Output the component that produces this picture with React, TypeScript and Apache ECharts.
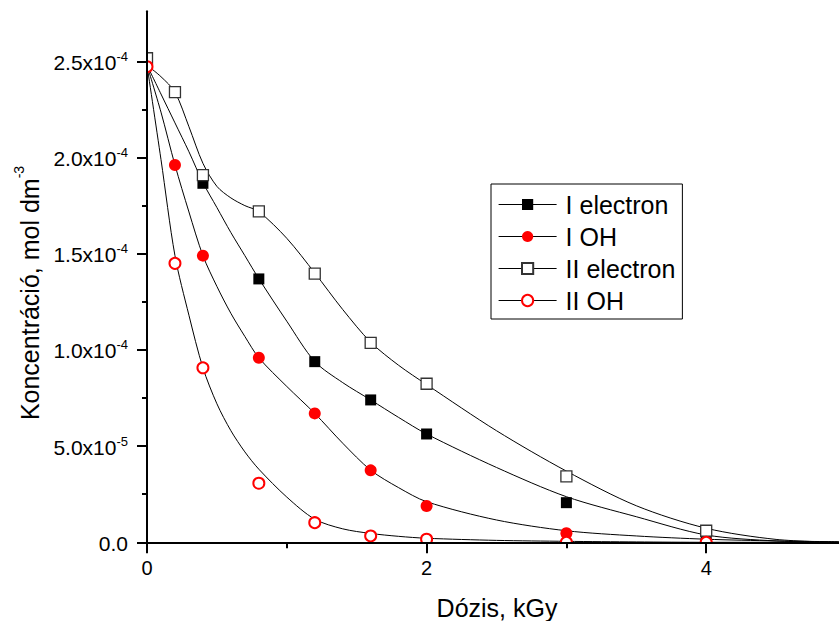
import React, { useEffect, useRef } from "react";
import * as echarts from "echarts";

// ---- data (concentration in units of 1e-4 mol dm^-3, dose in kGy) ----
const seriesNames = ["I electron", "I OH", "II electron", "II OH"];

const iElectron = [[0, 2.51], [0.4, 1.866], [0.8, 1.369], [1.2, 0.939], [1.6, 0.74], [2.0, 0.563], [3.0, 0.206], [4.0, 0.03]];
const iOH = [[0, 2.47], [0.2, 1.961], [0.4, 1.49], [0.8, 0.959], [1.2, 0.67], [1.6, 0.374], [2.0, 0.189], [3.0, 0.047], [4.0, 0.0]];
const iiElectron = [[0, 2.516], [0.2, 2.34], [0.4, 1.909], [0.8, 1.72], [1.2, 1.396], [1.6, 1.037], [2.0, 0.824], [3.0, 0.343], [4.0, 0.06]];
const iiOH = [[0, 2.472], [0.2, 1.45], [0.4, 0.907], [0.8, 0.307], [1.2, 0.102], [1.6, 0.033], [2.0, 0.016], [3.0, 0.0], [4.0, 0.0]];

// fitted curves
const curveX = [0, 0.1, 0.2, 0.3, 0.4, 0.5, 0.6, 0.7, 0.8, 1.0, 1.2, 1.4, 1.6, 1.8, 2.0, 2.5, 3.0, 3.5, 4.0, 4.5, 4.95];
const fitIElectron = [2.48, 2.33, 2.18, 2.03, 1.87, 1.74, 1.61, 1.49, 1.37, 1.149, 0.94, 0.83, 0.74, 0.649, 0.563, 0.389, 0.237, 0.133, 0.038, 0.007, 0.0];
const fitIOH = [2.48, 2.236, 1.961, 1.717, 1.49, 1.33, 1.19, 1.07, 0.959, 0.81, 0.67, 0.515, 0.375, 0.284, 0.211, 0.116, 0.06, 0.033, 0.016, 0.007, 0.003];
const fitIIElectron = [2.48, 2.42, 2.34, 2.16, 1.97, 1.85, 1.79, 1.75, 1.719, 1.58, 1.4, 1.21, 1.04, 0.92, 0.82, 0.58, 0.37, 0.19, 0.073, 0.015, 0.0];
const fitIIOH = [2.48, 1.99, 1.49, 1.18, 0.907, 0.72, 0.58, 0.47, 0.38, 0.235, 0.12, 0.07, 0.046, 0.031, 0.021, 0.01, 0.005, 0.002, 0.0, 0.0, 0.0];

const xMajorTicks = [0, 2, 4];
const xMinorTicks = [1, 3];
const yMajorTicks = [0, 0.5, 1.0, 1.5, 2.0, 2.5];
const yMinorTicks = [0.25, 0.75, 1.25, 1.75, 2.25];

const FONT = "'Liberation Sans', Arial, sans-serif";

function yLabel(v: number): string {
  if (v === 0) return "{a|0.0}";
  if (v < 1) return `{a|${(v * 10).toFixed(1)}x10}{s|-5}`;
  return `{a|${v.toFixed(1)}x10}{s|-4}`;
}

export default function App() {
  const ref = useRef<HTMLDivElement>(null);
  useEffect(() => {
    if (!ref.current) return;
    const chart = echarts.init(ref.current, null, { renderer: "svg" });
    const tickStyle = { color: "#000", width: 2 };
    const curve = (name: string, ys: number[]) => ({
      type: "line",
      name,
      data: curveX.map((x, i) => [x, ys[i]]),
      symbol: "none",
      smooth: 0.3,
      lineStyle: { color: "#000", width: 1 },
      silent: true,
      z: 2,
    });
    const markers = (name: string, data: number[][], symbol: string, size: number, itemStyle: any) => ({
      type: "line",
      name,
      data,
      symbol,
      symbolSize: size,
      showSymbol: true,
      itemStyle,
      lineStyle: { width: 0, opacity: 0 },
      silent: true,
      z: 3,
    });
    chart.setOption({
      animation: false,
      backgroundColor: "#fff",
      grid: { left: 147, right: 0, top: 11.3, bottom: 78.7, containLabel: false, outerBoundsMode: "none" },
      legend: {
        data: seriesNames,
        orient: "vertical",
        left: 491,
        top: 184,
        padding: [8, 7, 6, 7],
        itemGap: 7,
        itemWidth: 58,
        itemHeight: 14,
        borderColor: "#000",
        borderWidth: 1,
        borderRadius: 0,
        backgroundColor: "#fff",
        lineStyle: { color: "#000", width: 1.2, opacity: 1 },
        textStyle: { fontSize: 25, fontFamily: FONT, color: "#000", padding: [0, 0, 0, 4] },
        selectedMode: false,
      },
      xAxis: [
        {
          type: "value",
          min: 0,
          max: 4.95,
          interval: 2,
          z: 10,
          axisLine: { lineStyle: { color: "#000", width: 2 } },
          axisTick: { customValues: xMajorTicks, length: 11, lineStyle: tickStyle },
          axisLabel: { customValues: xMajorTicks, margin: 16, fontSize: 20, fontFamily: FONT, color: "#000" },
          splitLine: { show: false },
        },
        {
          type: "value",
          min: 0,
          max: 4.95,
          interval: 1,
          position: "bottom",
          z: 10,
          axisLine: { show: false },
          axisTick: { customValues: xMinorTicks, length: 6, lineStyle: tickStyle },
          axisLabel: { show: false },
          splitLine: { show: false },
        },
      ],
      yAxis: [
        {
          type: "value",
          min: 0,
          max: 2.76,
          interval: 0.5,
          z: 10,
          axisLine: { show: true, lineStyle: { color: "#000", width: 2 } },
          axisTick: { show: true, customValues: yMajorTicks, length: 10, lineStyle: tickStyle },
          axisLabel: {
            customValues: yMajorTicks,
            margin: 19,
            formatter: yLabel,
            rich: {
              a: { fontSize: 21, fontFamily: FONT, color: "#000", lineHeight: 23, verticalAlign: "bottom" },
              s: { fontSize: 13, fontFamily: FONT, color: "#000", lineHeight: 13, verticalAlign: "top" },
            },
          },
          splitLine: { show: false },
        },
        {
          type: "value",
          min: 0,
          max: 2.76,
          interval: 0.25,
          position: "left",
          z: 10,
          axisLine: { show: false },
          axisTick: { show: true, customValues: yMinorTicks, length: 5, lineStyle: tickStyle },
          axisLabel: { show: false },
          splitLine: { show: false },
        },
      ],
      graphic: [
        { type: "rect", shape: { x: 0, y: 0, width: 146.5, height: 621 }, style: { fill: "#fff" }, z: 5, silent: true },
        { type: "rect", shape: { x: 0, y: 543, width: 839, height: 78 }, style: { fill: "#fff" }, z: 5, silent: true },
        {
          type: "text",
          x: 497,
          y: 608,
          z: 11,
          style: {
            text: "Dózis, kGy",
            fontSize: 25,
            fontFamily: FONT,
            fill: "#000",
            textAlign: "center",
            align: "center",
            textVerticalAlign: "middle",
            verticalAlign: "middle",
          },
        },
        {
          type: "text",
          x: 27,
          y: 293,
          rotation: Math.PI / 2,
          z: 11,
          style: {
            text: "{a|Koncentráció, mol dm}{s|-3}",
            fill: "#000",
            textAlign: "center",
            align: "center",
            textVerticalAlign: "middle",
            verticalAlign: "middle",
            rich: {
              a: { fontSize: 25, fontFamily: FONT, fill: "#000", lineHeight: 30, verticalAlign: "bottom" },
              s: { fontSize: 14, fontFamily: FONT, fill: "#000", lineHeight: 14, verticalAlign: "top" },
            },
          },
        },
      ],
      series: [
        curve("fit I electron", fitIElectron),
        curve("fit I OH", fitIOH),
        curve("fit II electron", fitIIElectron),
        curve("fit II OH", fitIIOH),
        markers("I electron", iElectron, "rect", 11, { color: "#000", borderWidth: 0 }),
        markers("I OH", iOH, "circle", 12, { color: "#ff0000", borderWidth: 0 }),
        markers("II electron", iiElectron, "rect", 11, { color: "#fff", borderColor: "#333", borderWidth: 1.3 }),
        markers("II OH", iiOH, "emptyCircle", 11, { color: "#ff0000", borderWidth: 1.2 }),
      ],
    });
    return () => chart.dispose();
  }, []);
  return (
    <div
      ref={ref}
      style={{ position: "absolute", left: 0, top: 0, width: 839, height: 621 }}
    />
  );
}
